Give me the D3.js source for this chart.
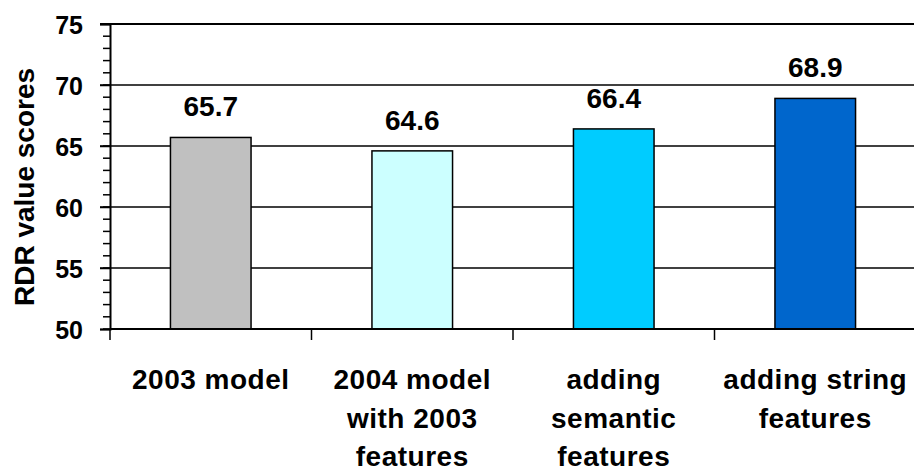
<!DOCTYPE html>
<html><head><meta charset="utf-8">
<script src="https://cdn.jsdelivr.net/npm/d3@7"></script>
<style>
html,body{margin:0;padding:0;background:#fff;overflow:hidden;}
text{font-family:"Liberation Sans",Arial,sans-serif;font-weight:bold;fill:#000;}
</style></head>
<body><svg id="c" width="914" height="469"></svg>
<script>
const categories = ["2003 model", "2004 model\nwith 2003\nfeatures", "adding\nsemantic\nfeatures", "adding string\nfeatures"];
const values = [65.7, 64.6, 66.4, 68.9];
const colors = ["#C0C0C0", "#CCFFFF", "#00CCFF", "#0066CC"];
const yTicks = [50, 55, 60, 65, 70, 75];
const yTitle = "RDR value scores";

(function () {
const svg = d3.select("#c");
const pL = 110, pR = 916, pT = 24, pB = 329;
const x = d3.scaleBand().domain(categories).range([pL, pR]).padding(0);
const y = d3.scaleLinear().domain([50, 75]).range([pB, pT]);

// gridlines
svg.append("g").selectAll("line").data(yTicks.filter(d => d > 50)).join("line")
  .attr("x1", pL - 10).attr("x2", 914)
  .attr("y1", d => y(d)).attr("y2", d => y(d))
  .attr("stroke", "#000").attr("stroke-width", d => d === 75 ? 2 : 1.5);

// minor ticks
svg.append("g").selectAll("line").data(d3.range(50, 76, 1)).join("line")
  .attr("x1", pL - 7).attr("x2", pL)
  .attr("y1", d => y(d)).attr("y2", d => y(d))
  .attr("stroke", "#000").attr("stroke-width", 1.5);

// y axis
const yAxis = d3.axisLeft(y).tickValues(yTicks).tickSize(10).tickPadding(17).tickFormat(d3.format("d"));
const gy = svg.append("g").attr("transform", `translate(${pL},0)`).call(yAxis);
gy.select(".domain").attr("stroke-width", 2);
gy.selectAll(".tick line").attr("stroke-width", 1.5);
gy.selectAll("text").style("font-size", "25px").attr("dy", "0.36em")
  .style("font-family", "'Liberation Sans',Arial,sans-serif").style("font-weight", "bold");

// bars
const bw = x.bandwidth() * 0.4;
svg.append("g").selectAll("rect").data(values).join("rect")
  .attr("x", (d, i) => x(categories[i]) + x.bandwidth() / 2 - bw / 2)
  .attr("y", d => y(d))
  .attr("width", bw)
  .attr("height", d => y(50) - y(d))
  .attr("fill", (d, i) => colors[i])
  .attr("stroke", "#000").attr("stroke-width", 1.5);

// value labels
svg.append("g").selectAll("text").data(values).join("text")
  .attr("x", (d, i) => x(categories[i]) + x.bandwidth() / 2)
  .attr("y", d => y(d) - 21)
  .attr("text-anchor", "middle")
  .style("font-size", "28px")
  .text(d => d3.format(".1f")(d));

// x axis
const xTickPos = categories.map(c => x(c)).concat([pR]);
svg.append("line").attr("x1", pL).attr("x2", 914).attr("y1", pB).attr("y2", pB)
  .attr("stroke", "#000").attr("stroke-width", 2);
svg.append("g").selectAll("line").data(xTickPos).join("line")
  .attr("x1", d => d).attr("x2", d => d).attr("y1", pB).attr("y2", pB + 11)
  .attr("stroke", "#000").attr("stroke-width", 1.5);

// category labels
const cl = svg.append("g").selectAll("text").data(categories).join("text")
  .attr("text-anchor", "middle")
  .style("font-size", "28px")
  .style("letter-spacing", "0.5px")
  .attr("transform", d => `translate(${x(d) + x.bandwidth() / 2},389)`);
cl.selectAll("tspan").data(d => d.split("\n")).join("tspan")
  .attr("x", 0).attr("y", (d, i) => i * 38.5).text(d => d);

// y title
svg.append("text")
  .attr("transform", "translate(34,187) rotate(-90)")
  .attr("text-anchor", "middle")
  .style("font-size", "28px")
  .text(yTitle);
})();
</script></body></html>
